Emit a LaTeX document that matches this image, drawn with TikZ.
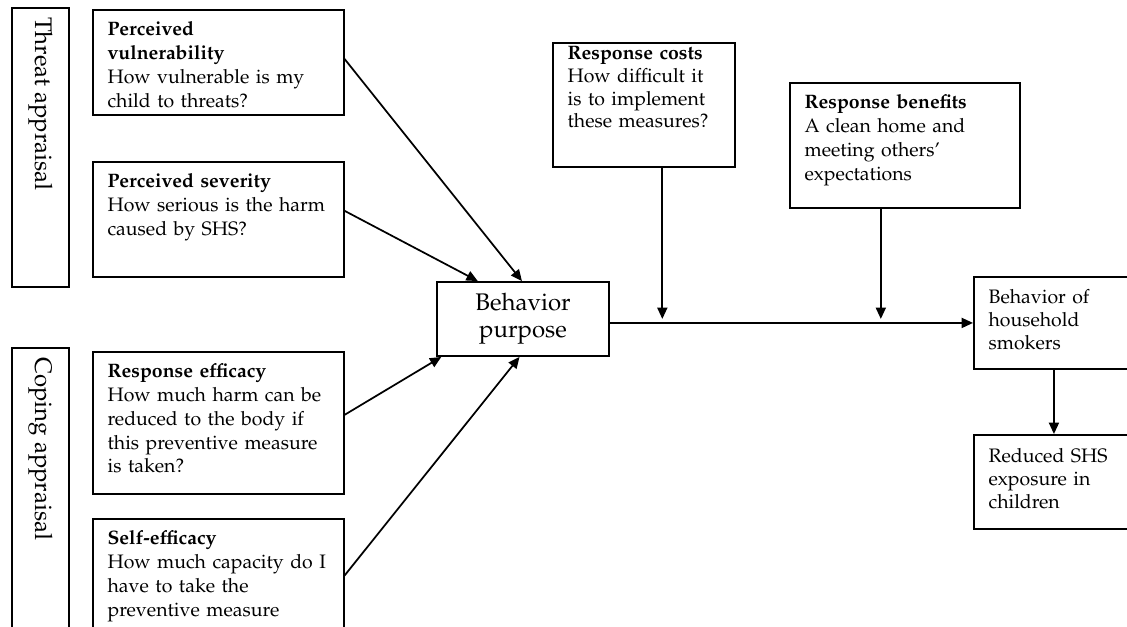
\documentclass[tikz,border=0pt]{standalone}
\usepackage[T1]{fontenc}
\usepackage{mathpazo}
\usetikzlibrary{arrows.meta,calc}
\begin{document}
\begin{tikzpicture}[x=0.75pt,y=-0.75pt,
  box/.style={draw, line width=1.4pt, anchor=north west, align=left, inner xsep=11pt, inner ysep=6.5pt, text height=13pt, font=\fontsize{14.6}{17.8}\selectfont},
  frame/.style={draw, line width=1.4pt, inner sep=0pt},
  vlabel/.style={rotate=-90, anchor=west, inner sep=0pt, font=\fontsize{18}{20}\selectfont},
  conn/.style={line width=1.3pt, -{Triangle[length=8.5pt,width=7.5pt]}}]
\clip (0,0) rectangle (1127,626);
\fill[white] (0,0) rectangle (1127,626);
% appraisal frames
\node[frame, minimum width=42.75pt, minimum height=209.25pt] (TA) at (40.5,147.5) {};
\node[vlabel] (TAt) at (40.5,17) {Threat appraisal};
\node[frame, minimum width=42.75pt, minimum height=226.5pt] (CA) at (40.5,499) {};
\node[vlabel] (CAt) at (40.5,357) {Coping appraisal};
% left boxes
\node[box, text width=166pt, text depth=52.75pt] (PV) at (92,9)
  {\textbf{Perceived}\\\textbf{vulnerability}\\How vulnerable is my\\child to threats?};
\node[box, text width=166pt, text depth=60.25pt] (PS) at (92,161)
  {\textbf{Perceived severity}\\How serious is the harm\\caused by SHS?};
\node[box, text width=166pt, text depth=80.5pt] (RE) at (92,351)
  {\textbf{Response efficacy}\\How much harm can be\\reduced to the body if\\this preventive measure\\is taken?};
\node[box, text width=166pt, text depth=73pt] (SE) at (92,518)
  {\textbf{Self-efficacy}\\\mbox{How much capacity do I}\\have to take the\\preventive measure};
% centre
\node[frame, minimum width=129pt, minimum height=55.5pt, align=center, font=\fontsize{18}{20}\selectfont] (BP) at (523,319) {Behavior\\purpose};
% top boxes
\node[box, text width=114.5pt, text height=6.25pt, text depth=73.75pt, font=\fontsize{14.6}{17}\selectfont] (RC) at (552,42)
  {\textbf{Response costs}\\How difficult it\\is to implement\\these measures?};
\node[box, text width=150.5pt, text depth=67.75pt] (RB) at (789,82)
  {\textbf{Response benefits}\\A clean home and\\meeting others'\\expectations};
% right boxes
\node[box, text width=98pt, text height=13.75pt, text depth=42.25pt, font=\fontsize{14.6}{17}\selectfont] (BH) at (973,276)
  {Behavior of\\household\\smokers};
\node[box, text width=98pt, text height=14.5pt, text depth=43pt, font=\fontsize{14.6}{17}\selectfont] (RS) at (973,434)
  {Reduced SHS\\exposure in\\children};
% connectors
\draw[conn] ($(PV.north east)!0.467!(PV.south east)$) -- ($(BP.north west)!0.494!(BP.north east)$);
\draw[conn] ($(PS.north east)!0.426!(PS.south east)$) -- ($(BP.north west)!0.24!(BP.north east)$);
\draw[conn] ($(RE.north east)!0.444!(RE.south east)$) -- ($(BP.south west)!0.03!(BP.south east)$);
\draw[conn] ($(SE.north east)!0.43!(SE.south east)$) -- ($(BP.south west)!0.48!(BP.south east)$);
\draw[conn] (BP.east |- BH.west) -- (BH.west);
\coordinate (rcs) at ($(RC.south west)!0.6!(RC.south east)$);
\draw[conn, shorten >=3pt] (rcs) -- (rcs |- BH.west);
\coordinate (rbs) at ($(RB.south west)!0.396!(RB.south east)$);
\draw[conn, shorten >=3pt] (rbs) -- (rbs |- BH.west);
\draw[conn] (BH.south) -- (RS.north);
\end{tikzpicture}
\end{document}
